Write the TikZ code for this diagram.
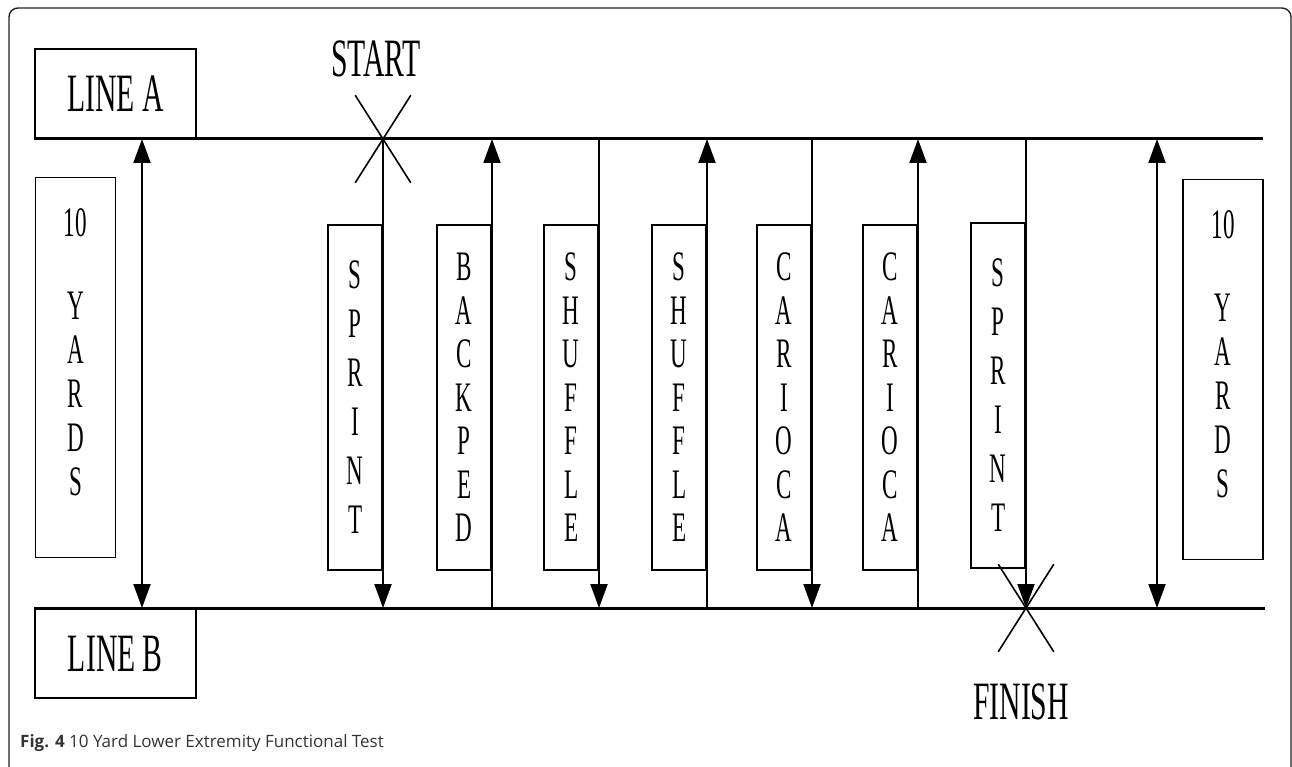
\documentclass[tikz,border=0pt]{standalone}
\usepackage{fontspec}
\usepackage{tikz}
\setmainfont{Liberation Serif}
\newfontfamily\narrowserif[FakeStretch=0.55]{Liberation Serif}
\newfontfamily\captionsans{Open Sans}
\definecolor{framegray}{HTML}{222222}
\definecolor{capgray}{HTML}{333333}
\usetikzlibrary{arrows.meta, positioning, shapes.misc}

\begin{document}
\begin{tikzpicture}[x=1pt, y=-1pt,
  lbl/.style={inner sep=0pt, font=\narrowserif\fontsize{54}{54}\selectfont},
  linebox/.style={draw, line width=1.8pt, minimum width=161pt, minimum height=89pt, inner sep=0pt, font=\narrowserif\fontsize{54}{54}\selectfont},
  move/.style={draw, line width=1.6pt, anchor=north east, minimum width=54pt, minimum height=345pt, inner sep=0pt, align=center, font=\narrowserif\fontsize{42}{#1}\selectfont},
  move/.default=43.5,
  yards/.style={draw, line width=1.6pt, minimum width=80pt, minimum height=380pt, inner sep=0pt, align=center, text depth=30pt, font=\narrowserif\fontsize{42}{44}\selectfont},
  track/.style={line width=3pt},
  leg/.style={line width=2pt, -{Triangle[length=24pt, width=17pt]}},
  both/.style={line width=2pt, {Triangle[length=24pt, width=17pt]}-{Triangle[length=24pt, width=17pt]}},
  xmark/.style={cross out, draw, line width=1.6pt, minimum width=54pt, minimum height=86pt, inner sep=0pt}
]
\useasboundingbox (0,0) rectangle (1292,767);
\clip (0,0) rectangle (1292,767);
% Draw outer frame
\draw[framegray, line width=1.4pt, rounded corners=9pt] (9,790) -- (9,8) -- (1291,8) -- (1291,790);

% Lines A and B
\node[linebox, anchor=south west] (lineA) at (34,139) {LINE A};
\node[linebox, anchor=north west] (lineB) at (34,608) {LINE B};
\coordinate (endA) at (1263,139);
\coordinate (endB) at (1265,608);
\draw[track] (lineA.south west) -- (endA);
\draw[track] (lineB.north west) -- (endB);

\foreach \n/\x in {l/142,1/383,2/492,3/599,4/707,5/812,6/918,7/1026,r/1157} {
  \coordinate (a\n) at (\x,139);
  \coordinate (b\n) at (\x,608);
}

% 10 yards boxes
\node[yards] (yardsL) at (75.5,367.5) {10\\[39pt]Y\\A\\R\\D\\S};
\node[yards] (yardsR) at (1223,369.5) {10\\[39pt]Y\\A\\R\\D\\S};

% Drill boxes
\node[move=49] (sprint1) at (a1 |- 0,224) {S\\P\\R\\I\\N\\T};
\node[move] (backped) at (a2 |- 0,224) {B\\A\\C\\K\\P\\E\\D};
\node[move] (shuffle1) at (a3 |- 0,224) {S\\H\\U\\F\\F\\L\\E};
\node[move] (shuffle2) at (a4 |- 0,224) {S\\H\\U\\F\\F\\L\\E};
\node[move] (carioca1) at (a5 |- 0,224) {C\\A\\R\\I\\O\\C\\A};
\node[move] (carioca2) at (a6 |- 0,224) {C\\A\\R\\I\\O\\C\\A};
\node[move=49] (sprint2) at (a7 |- 0,222) {S\\P\\R\\I\\N\\T};

% Legs of the run
\foreach \n in {1,3,5,7} \draw[leg] (a\n) -- (b\n);
\foreach \n in {2,4,6} \draw[leg] (b\n) -- (a\n);
\draw[both] (al) -- (bl);
\draw[both] (ar) -- (br);

% Start and finish
\node[xmark] (startx) at (a1) {};
\node[lbl, above=18pt of startx, xshift=-7pt] (start) {START};
\node[xmark] (finishx) at (b7) {};
\node[lbl, below=32pt of finishx, xshift=-5pt] (finish) {FINISH};

% Caption
\node[anchor=base west, inner sep=0pt, font=\captionsans\fontsize{17}{20}\selectfont, text=capgray] (caption) at (20,747) {\textbf{Fig. 4} 10 Yard Lower Extremity Functional Test};
\end{tikzpicture}
\end{document}
